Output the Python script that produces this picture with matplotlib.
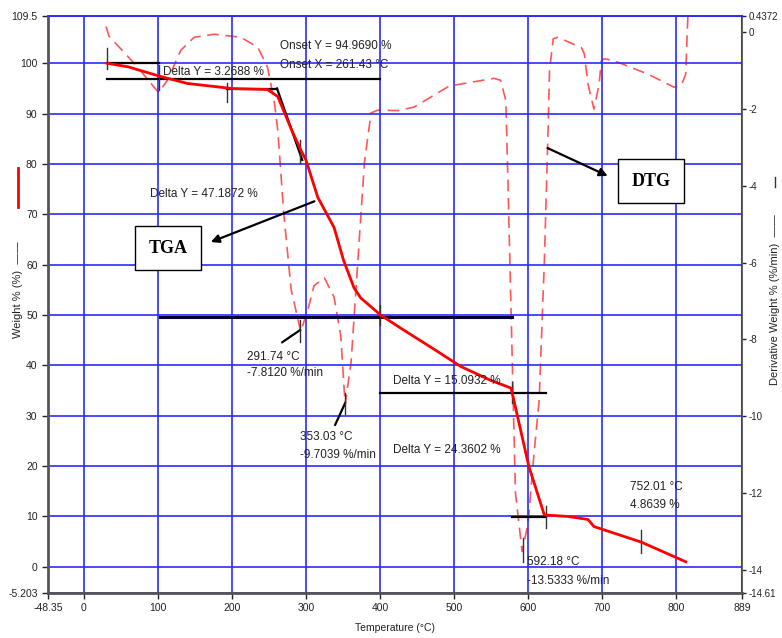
import matplotlib
matplotlib.use("Agg")
import matplotlib.pyplot as plt
from matplotlib.lines import Line2D

plt.rcParams['font.family'] = ['Liberation Sans Narrow', 'Liberation Sans', 'DejaVu Sans']

# ---------------- data ----------------
tga_temp = [32, 60, 101, 140, 200, 248, 262, 280, 293, 300, 316, 338, 351, 365, 374,
            401, 428, 470, 509, 550, 577, 581, 601, 622, 654, 681, 689, 753, 813]
tga_weight = [100, 99.3, 97.5, 96.0, 95.0, 94.8, 93.4, 87.0, 82.8, 80.8, 73.4, 67.4, 60.8, 55.4, 53.4,
              50.0, 47.4, 43.5, 39.8, 37.0, 35.5, 33.0, 20.0, 10.3, 10.0, 9.4, 8.0, 4.9, 1.0]

dtg_temp = [30, 34, 70, 101, 113, 131, 149, 176, 212, 235, 248, 257, 262, 270, 280, 293, 303, 311,
            325, 338, 347, 353, 361, 370, 379, 388, 397, 424, 446, 491, 500, 554, 563, 570, 573, 578,
            583, 592, 600, 608, 615, 622, 627, 629, 634, 640, 672, 676, 681, 689, 696, 699, 703, 716,
            762, 797, 807, 813, 815, 816]
dtg_rate = [0.15, -0.1, -0.85, -1.57, -1.25, -0.47, -0.13, -0.05, -0.13, -0.39, -0.9, -1.78, -2.55,
            -4.7, -6.7, -7.8, -7.2, -6.6, -6.4, -6.9, -7.9, -9.7, -8.6, -6.0, -3.4, -2.1, -2.03,
            -2.04, -1.95, -1.43, -1.38, -1.2, -1.25, -1.78, -4.0, -8.0, -12.0, -13.53, -12.8, -11.0,
            -9.6, -6.0, -2.6, -1.0, -0.17, -0.13, -0.4, -0.56, -1.35, -2.0, -1.35, -0.74, -0.69,
            -0.74, -1.09, -1.43, -1.38, -1.09, 0.0, 0.44]

x_ticks = [-48.35, 0, 100, 200, 300, 400, 500, 600, 700, 800, 889]
x_labels = ["-48.35", "0", "100", "200", "300", "400", "500", "600", "700", "800", "889"]
y_ticks = [-5.203, 0, 10, 20, 30, 40, 50, 60, 70, 80, 90, 100, 109.5]
y_labels = ["-5.203", "0", "10", "20", "30", "40", "50", "60", "70", "80", "90", "100", "109.5"]
y2_ticks = [0.4372, 0, -2, -4, -6, -8, -10, -12, -14, -14.61]
y2_labels = ["0.4372", "0", "-2", "-4", "-6", "-8", "-10", "-12", "-14", "-14.61"]

# ---------------- figure ----------------
fig = plt.figure(figsize=(7.82, 6.38), dpi=100)
ax = fig.add_axes([48/782, 1-593/638, (742-48)/782, (593-15.5)/638])
ax2 = ax.twinx()
ax.set_zorder(ax2.get_zorder() + 1)
ax.patch.set_visible(False)

grid_blue = '#2b2bff'
tick_kw = dict(labelsize=7.5, length=4, width=1, colors='#222222')

ax.set_xlim(x_ticks[0], x_ticks[-1])
ax.set_ylim(y_ticks[0], y_ticks[-1])
ax.set_xticks(x_ticks)
ax.set_xticklabels(x_labels)
ax.set_yticks(y_ticks)
ax.set_yticklabels(y_labels)
ax.tick_params(**tick_kw)
ax.grid(True, color=grid_blue, lw=1.2)

ax2.set_ylim(y2_ticks[-1], y2_ticks[0])
ax2.set_yticks(y2_ticks)
ax2.set_yticklabels(y2_labels)
ax2.tick_params(labelsize=7, length=3, width=1, colors='#222222', pad=2)

for a in (ax, ax2):
    a.spines['top'].set_color(grid_blue)
    a.spines['top'].set_linewidth(1.2)
ax.spines['left'].set_color('#555555')
ax.spines['left'].set_linewidth(2)
ax.spines['bottom'].set_color('#555555')
ax.spines['bottom'].set_linewidth(2)
ax.spines['right'].set_visible(False)
ax2.spines['left'].set_visible(False)
ax2.spines['bottom'].set_visible(False)
ax2.spines['right'].set_color('#666666')
ax2.spines['right'].set_linewidth(1.5)

# curves
ax2.plot(dtg_temp, dtg_rate, color='#ff4444', lw=1.2, dashes=(7, 4), alpha=0.9)
ax.plot(tga_temp, tga_weight, color='#ff0000', lw=2.0, zorder=5)

# ---------------- annotations (black marker lines) ----------------
k = dict(color='black', lw=1.6, zorder=4)
kt = dict(color='#333333', lw=1.0, zorder=4)
ax.plot([32, 101], [100, 100], **k)
ax.plot([32, 400], [96.9, 96.9], **k)
ax.plot([31.4, 31.4], [98.8, 103], **kt)
ax.plot([101.6, 101.6], [94.7, 99.7], **kt)
ax.plot([193.6, 261], [95.0, 95.0], **k)
ax.plot([261, 295], [95.0, 80.8], **k)
ax.plot([193.6, 193.6], [92.3, 96.1], **kt)
ax.plot([292, 292], [80.2, 84.8], **kt)
ax.plot([103, 578.4], [49.7, 49.7], color='#000033', lw=2.2, zorder=4)
ax.plot([400, 400], [48, 52], **kt)
ax.plot([400, 624.5], [34.5, 34.5], **k)
ax.plot([578, 578], [32.5, 36.7], **kt)
ax.plot([578, 624.5], [9.9, 9.9], **k)
ax.plot([624.5, 624.5], [7.7, 12.1], **kt)
ax.plot([268, 292], [44.6, 47.0], **k)
ax.plot([292, 292], [44.6, 49.0], **kt)
ax.plot([339.5, 352.9], [28.2, 32.5], **k)
ax.plot([352.9, 352.9], [30.3, 34.5], **kt)
ax.plot([593, 593], [0.95, 5.7], **kt)
ax.plot([752.6, 752.6], [2.8, 7.3], **kt)

tk = dict(fontsize=8.5, color='#222222', ha='left', va='center', zorder=6)
ax.text(107, 98.3, "Delta Y = 3.2688 %", **tk)
ax.text(265, 103.4, "Onset Y = 94.9690 %", **tk)
ax.text(265, 99.7, "Onset X = 261.43 °C", **tk)
ax.text(89.5, 74.0, "Delta Y = 47.1872 %", **tk)
ax.text(220.7, 41.7, "291.74 °C", **tk)
ax.text(220.7, 38.5, "-7.8120 %/min", **tk)
ax.text(292, 25.8, "353.03 °C", **tk)
ax.text(292, 22.2, "-9.7039 %/min", **tk)
ax.text(418, 36.9, "Delta Y = 15.0932 %", **tk)
ax.text(418, 23.2, "Delta Y = 24.3602 %", **tk)
ax.text(598.6, 0.95, "592.18 °C", **tk)
ax.text(598.6, -2.8, "-13.5333 %/min", **tk)
ax.text(737.7, 15.8, "752.01 °C", **tk)
ax.text(737.7, 12.3, "4.8639 %", **tk)

box = dict(boxstyle='square,pad=0.75', fc='white', ec='black', lw=1.0)
ax.text(114, 63.3, "TGA", fontsize=13, fontweight='bold', family=['Liberation Serif', 'DejaVu Serif'],
        ha='center', va='center', bbox=box, zorder=7)
ax.text(766.6, 76.6, "DTG", fontsize=13, fontweight='bold', family=['Liberation Serif', 'DejaVu Serif'],
        ha='center', va='center', bbox=box, zorder=7)
ax.annotate("", xy=(168, 64.3), xytext=(315, 72.8),
            arrowprops=dict(arrowstyle='-|>', color='black', lw=1.6, mutation_scale=12), zorder=7)
ax.annotate("", xy=(711, 77.4), xytext=(623, 83.4),
            arrowprops=dict(arrowstyle='-|>', color='black', lw=1.6, mutation_scale=12), zorder=7)

# ---------------- axis labels ----------------
fig.text(395/782, 1-628/638, "Temperature (°C)", fontsize=7.5, ha='center', va='center', color='#222222')
fig.text(18/782, 1-290/638, "Weight % (%)  ——", fontsize=8, rotation=90, ha='center', va='center',
         color='#222222')
fig.add_artist(Line2D([18/782, 18/782], [1-207/638, 1-168/638], color='red', lw=2))
fig.text(775/782, 1-300/638, "Derivative Weight % (%/min)  ——", fontsize=8, rotation=90,
         ha='center', va='center', color='#222222')
fig.add_artist(Line2D([775/782, 775/782], [1-187/638, 1-177/638], color='#333333', lw=1))

fig.savefig("out.png", dpi=100)
